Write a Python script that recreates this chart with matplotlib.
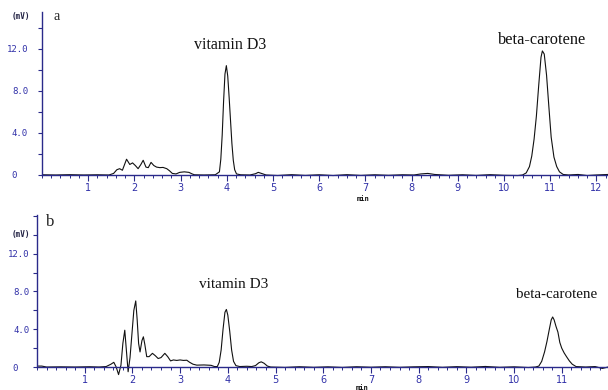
import matplotlib.pyplot as plt
from matplotlib.ticker import MultipleLocator

# trace a (time in min, signal in mV)
t_a = [0.0, 0.3, 0.6, 0.9, 1.2, 1.45, 1.55, 1.62, 1.68, 1.74, 1.83, 1.9, 1.96,
       2.02, 2.08, 2.14, 2.19, 2.25, 2.3, 2.36, 2.42, 2.48, 2.55, 2.62, 2.7,
       2.76, 2.82, 2.9, 2.98, 3.08, 3.18, 3.25, 3.3, 3.5, 3.75, 3.84, 3.87,
       3.9, 3.93, 3.96, 3.99, 4.02, 4.05, 4.08, 4.11, 4.14, 4.17, 4.21, 4.3,
       4.5, 4.62, 4.68, 4.75, 4.85, 5.1, 5.4, 5.7, 6.0, 6.3, 6.6, 6.9, 7.2,
       7.5, 7.8, 8.05, 8.2, 8.35, 8.5, 8.8, 9.1, 9.4, 9.7, 10.0, 10.3, 10.4,
       10.48, 10.55, 10.6, 10.65, 10.7, 10.75, 10.8, 10.83, 10.87, 10.92,
       10.97, 11.02, 11.08, 11.14, 11.2, 11.28, 11.4, 11.6, 11.8, 12.0, 12.25]
v_a = [0.02, 0.0, 0.03, 0.0, 0.02, 0.0, 0.15, 0.5, 0.6, 0.45, 1.5, 1.0, 1.15,
       0.9, 0.6, 1.0, 1.4, 0.75, 0.7, 1.2, 0.9, 0.75, 0.7, 0.72, 0.6,
       0.4, 0.15, 0.1, 0.25, 0.3, 0.25, 0.1, 0.02, 0.0, 0.02, 0.3, 1.5,
       3.8, 7.0, 9.6, 10.4, 9.4, 7.4, 5.2, 3.0, 1.4, 0.5, 0.1, 0.02,
       0.0, 0.12, 0.25, 0.15, 0.0, -0.05, 0.03, -0.04, 0.02, -0.05, 0.03, -0.04, 0.02,
       -0.03, 0.02, 0.0, 0.1, 0.15, 0.05, -0.03, 0.02, -0.04, 0.03, -0.03, -0.05, 0.0,
       0.2, 0.8, 1.8, 3.4, 5.6, 8.5, 11.2, 11.8, 11.5, 9.5,
       6.5, 3.6, 1.7, 0.8, 0.3, 0.05, 0.0, 0.05, -0.05, 0.0, 0.05]

# trace b
t_b = [0.0, 0.1, 0.2, 0.5, 0.8, 1.1, 1.3, 1.45, 1.55, 1.61, 1.66, 1.71, 1.76,
       1.8, 1.84, 1.87, 1.91, 1.95, 1.99, 2.03, 2.07, 2.1, 2.13, 2.16, 2.2,
       2.23, 2.26, 2.3, 2.35, 2.42, 2.48, 2.54, 2.6, 2.68, 2.74, 2.8, 2.86,
       2.93, 3.0, 3.07, 3.14, 3.2, 3.27, 3.35, 3.5, 3.65, 3.72, 3.78, 3.82,
       3.86, 3.9, 3.94, 3.97, 4.0, 4.04, 4.08, 4.12, 4.17, 4.25, 4.4, 4.5,
       4.58, 4.65, 4.7, 4.76, 4.83, 4.9, 5.2, 5.5, 5.8, 6.1, 6.4, 6.7, 7.0,
       7.3, 7.6, 7.9, 8.2, 8.5, 8.8, 9.1, 9.4, 9.7, 10.0, 10.3, 10.45, 10.52,
       10.58, 10.64, 10.69, 10.74, 10.78, 10.81, 10.84, 10.88, 10.92, 10.96,
       11.0, 11.05, 11.1, 11.16, 11.22, 11.3, 11.5, 11.7, 11.85, 11.97]
v_b = [0.1, 0.1, 0.0, 0.02, 0.0, 0.03, 0.0, 0.05, 0.3, 0.5, 0.0, -0.8, 0.2,
       2.5, 3.9, 2.0, -0.5, 1.0, 3.5, 6.0, 7.0, 5.0, 2.5, 1.6, 2.8,
       3.2, 2.4, 1.1, 1.1, 1.45, 1.2, 0.9, 1.0, 1.45, 1.1, 0.65, 0.75,
       0.7, 0.75, 0.7, 0.72, 0.5, 0.3, 0.2, 0.22, 0.18, 0.05, 0.05, 0.5,
       1.8, 4.0, 5.8, 6.1, 5.5, 3.8, 1.8, 0.6, 0.15, 0.05, 0.08, 0.05,
       0.15, 0.45, 0.55, 0.4, 0.1, 0.0, -0.04, 0.03, -0.03, 0.02, -0.04, 0.03, -0.02,
       0.03, -0.03, 0.02, 0.05, -0.03, 0.04, -0.02, 0.06, -0.03, 0.02, -0.05, 0.0, 0.1,
       0.6, 1.6, 2.7, 4.0, 5.0, 5.3, 5.0, 4.3, 3.7, 2.6,
       2.0, 1.5, 1.1, 0.65, 0.3, 0.05, 0.0, 0.05, -0.15, 0.0]

y_ticks = [0, 4, 8, 12]
y_labels = ["0  ", "4.0", "8.0", "12.0"]

W, H = 608, 390
axis_col = "#2a2a8a"
lab_col = "#3030a8"

fig = plt.figure(figsize=(6.08, 3.90), dpi=100)


def px(x, y):
    return x / W, 1 - y / H


def make_ax(rect, tr, v, xmax, ylim, spine_top, ypad):
    ax = fig.add_axes(rect)
    ax.plot(tr, v, color="#111111", lw=0.8)
    ax.set_xlim(0, xmax)
    ax.set_ylim(*ylim)
    for s in ["top", "right"]:
        ax.spines[s].set_visible(False)
    ax.spines["bottom"].set_position(("data", 0))
    ax.spines["left"].set_bounds(0, spine_top)
    for s in ["bottom", "left"]:
        ax.spines[s].set_color(axis_col)
        ax.spines[s].set_linewidth(1.0)
    ax.xaxis.set_minor_locator(MultipleLocator(0.2))
    ax.set_xticks(range(1, int(xmax) + 1))
    ax.set_yticks(y_ticks)
    ax.set_yticklabels(y_labels, family="DejaVu Sans Mono")
    ax.yaxis.set_minor_locator(MultipleLocator(2))
    ax.tick_params(axis="x", which="major", direction="out", length=4, width=0.8,
                   colors=axis_col, labelcolor=lab_col, labelsize=7, pad=2)
    ax.tick_params(axis="x", which="minor", direction="out", length=2.5, width=0.7,
                   colors=axis_col)
    ax.tick_params(axis="y", which="both", direction="out", length=3, width=0.8,
                   colors=axis_col, labelcolor=lab_col, labelsize=6.5, pad=ypad)
    ax.patch.set_alpha(0)
    return ax


# top panel (a): baseline at y=175 px, 0 min at x=42 px
ax1 = make_ax([42 / W, 1 - 179.2 / H, 1 - 42 / W, (179.2 - 12) / H],
              t_a, v_a, 12.25, (-0.4, 15.5), 15.5, 7)
# bottom panel (b): baseline at y=367 px, 0 min at x=37 px
ax2 = make_ax([37 / W, 1 - 376 / H, 1 - 37 / W, (376 - 215) / H],
              t_b, v_b, 11.97, (-0.95, 16.1), 16.1, 2.5)

fig.text(*px(21, 17), "(mV)", fontsize=5.5, fontweight="bold", color="#222244",
         ha="center", va="center", family="DejaVu Sans Mono")
fig.text(*px(21, 234), "(mV)", fontsize=5.5, fontweight="bold", color="#222244",
         ha="center", va="center", family="DejaVu Sans Mono")
fig.text(*px(363, 199), "min", fontsize=5, fontweight="bold", color="#111111",
         ha="center", va="center", family="DejaVu Sans Mono")
fig.text(*px(362, 388), "min", fontsize=5, fontweight="bold", color="#111111",
         ha="center", va="center", family="DejaVu Sans Mono")
fig.text(*px(57, 16), "a", fontsize=10, color="#222222", ha="center", va="center",
         family="Liberation Serif")
fig.text(*px(50, 222), "b", fontsize=12, color="#222222", ha="center", va="center",
         family="Liberation Serif")

fig.text(*px(230, 45), "vitamin D3", fontsize=11.5, color="#111111",
         ha="center", va="center", family="Liberation Serif")
fig.text(*px(542, 40), "beta-carotene", fontsize=11.8, color="#111111",
         ha="center", va="center", family="Liberation Serif")
fig.text(*px(234, 285), "vitamin D3", fontsize=11, color="#111111",
         ha="center", va="center", family="Liberation Serif")
fig.text(*px(557, 295), "beta-carotene", fontsize=10.8, color="#111111",
         ha="center", va="center", family="Liberation Serif")

fig.savefig("out.png", dpi=100)
